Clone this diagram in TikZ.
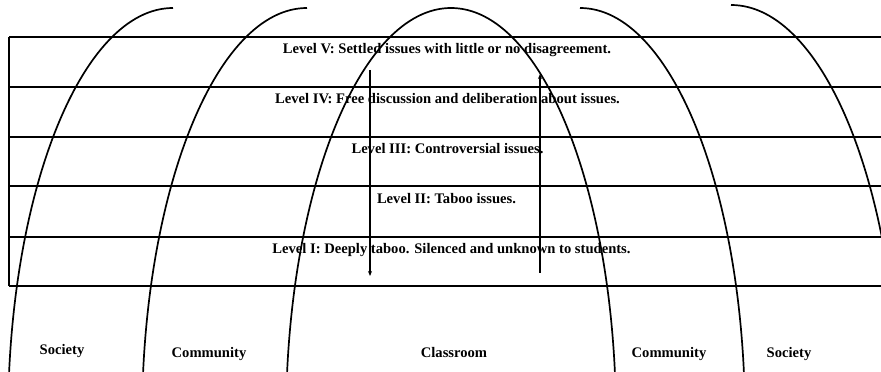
\documentclass[tikz,border=0pt]{standalone}
\usepackage{fontspec}
\setmainfont{Liberation Serif}
\usetikzlibrary{arrows.meta}
\begin{document}
\begin{tikzpicture}[x=1pt,y=1pt,
  rule/.style={line width=1.3pt},
  arch/.style={line width=1.7pt},
  lvl/.style={anchor=base,inner sep=0pt,font=\fontsize{14.6}{16}\selectfont\bfseries},
  sphere/.style={anchor=base,inner sep=0pt,font=\fontsize{14.6}{16}\selectfont\bfseries},
  flow/.style={line width=1.4pt,-{Stealth[length=5pt,width=4pt]}}]
\useasboundingbox (0,0) rectangle (881,372);
\clip (0,0) rectangle (881,372);
% level rules
\foreach \y in {335,285,235,186,135,86} \draw[rule] (9,\y) -- (881,\y);
\draw[rule] (9,335) -- (9,86);
% level texts
\node[lvl] (l5) at (447,318) {Level V: Settled issues with little or no disagreement.};
\node[lvl] (l4) at (447.5,268) {Level IV: Free discussion and deliberation about issues.};
\node[lvl] (l3) at (447.5,218) {Level III: Controversial issues.};
\node[lvl] (l2) at (446.5,168) {Level II: Taboo issues.};
\node[lvl] (l1) at (451.5,118) {Level I: Deeply taboo. Silenced and unknown to students.};
% sphere labels
\node[sphere] (s1) at (62,17) {Society};
\node[sphere] (c1) at (209,14) {Community};
\node[sphere] (cr) at (454,14) {Classroom};
\node[sphere] (c2) at (669,14) {Community};
\node[sphere] (s2) at (789,14) {Society};
% arrows
\coordinate (a1s) at (370,302);
\coordinate (a1e) at (370,96);
\coordinate (a2s) at (540,99);
\coordinate (a2e) at (540,298);
\draw[flow] (a1s) -- (a1e);
\draw[flow] (a2s) -- (a2e);
% arches
\draw[arch] (173,364) arc[start angle=90,end angle=180,x radius=165,y radius=412];
\draw[arch] (307,364) arc[start angle=90,end angle=180,x radius=165,y radius=412];
\draw[arch] (286,-48) arc[start angle=180,end angle=0,x radius=165,y radius=412];
\draw[arch] (580,364) arc[start angle=90,end angle=0,x radius=165,y radius=412];
\draw[arch] (731,367) arc[start angle=90,end angle=0,x radius=168,y radius=415];
\end{tikzpicture}
\end{document}
